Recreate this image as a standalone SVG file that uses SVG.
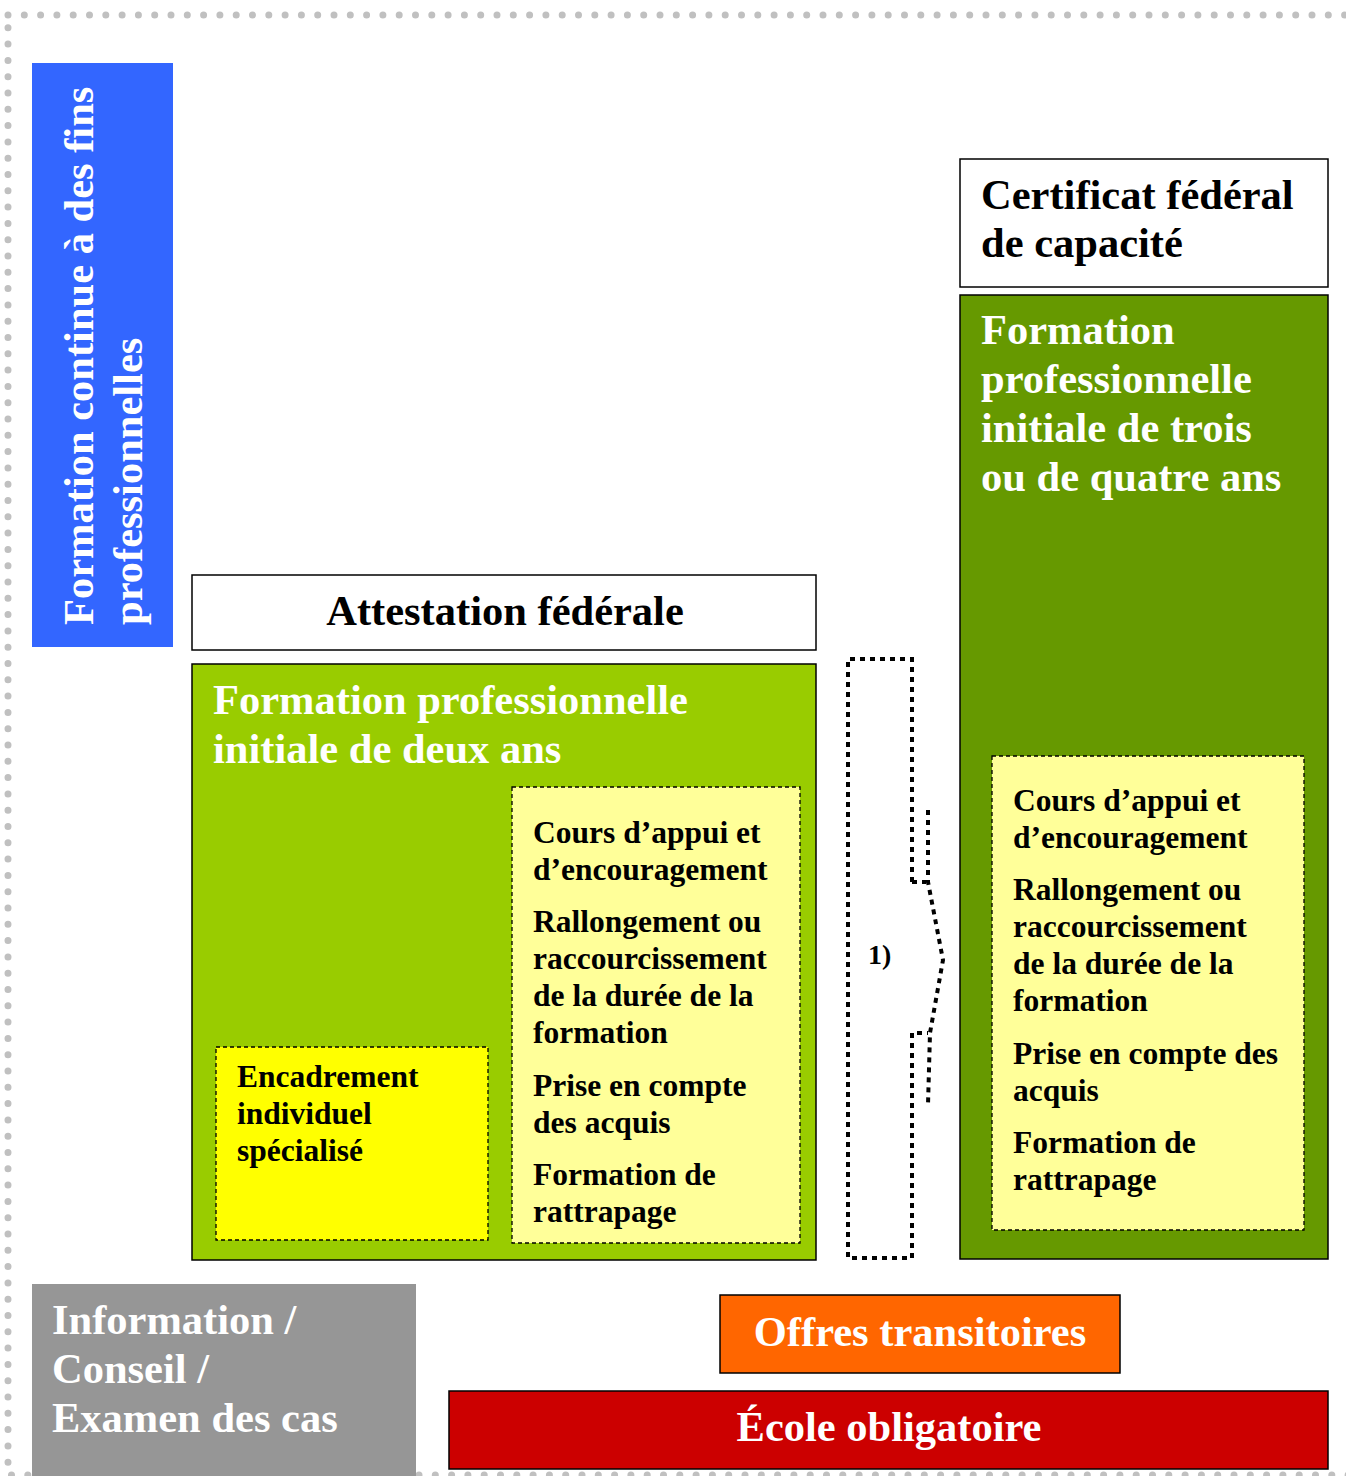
<svg xmlns="http://www.w3.org/2000/svg" width="1346" height="1476" viewBox="0 0 1346 1476">
<style>
text{font-family:"Liberation Serif","Times New Roman",serif;font-weight:bold}
.t{font-size:42.5px}
.b{font-size:31.5px;fill:#000}
.w{fill:#fff}
.k{fill:#000}
.box{stroke:#000;stroke-width:1.5}
.dash{stroke:#000;stroke-width:1.3;stroke-dasharray:4 3}
.br{fill:none;stroke:#000;stroke-width:4;stroke-dasharray:5 5}
</style>
<rect width="1346" height="1476" fill="#fff"/>
<rect x="8" y="15" width="1350" height="1460" fill="none" stroke="#C0C0C0" stroke-width="7" stroke-linecap="round" stroke-dasharray="0 16.3"/>

<g id="formation-continue">
<rect x="32" y="63" width="141" height="584" fill="#3366FF"/>
<text class="t w" transform="translate(93,625) rotate(-90)">Formation continue à des fins</text>
<text class="t w" transform="translate(142,625) rotate(-90)">professionnelles</text>
</g>

<g id="certificat">
<rect class="box" x="960" y="159" width="368" height="128" fill="#fff"/>
<text class="t k" x="981" y="209">Certificat fédéral</text>
<text class="t k" x="981" y="257">de capacité</text>
</g>

<g id="fpi-trois-quatre">
<rect class="box" x="960" y="295" width="368" height="964" fill="#669900"/>
<text class="t w" x="981" y="344">Formation</text>
<text class="t w" x="981" y="393">professionnelle</text>
<text class="t w" x="981" y="442">initiale de trois</text>
<text class="t w" x="981" y="491">ou de quatre ans</text>
</g>

<g id="mesures-droite">
<rect class="dash" x="992" y="756" width="312" height="474" fill="#FFFF99"/>
<text class="b" x="1013" y="811">Cours d’appui et</text>
<text class="b" x="1013" y="848">d’encouragement</text>
<text class="b" x="1013" y="900">Rallongement ou</text>
<text class="b" x="1013" y="937">raccourcissement</text>
<text class="b" x="1013" y="974">de la durée de la</text>
<text class="b" x="1013" y="1011">formation</text>
<text class="b" x="1013" y="1064">Prise en compte des</text>
<text class="b" x="1013" y="1101">acquis</text>
<text class="b" x="1013" y="1153">Formation de</text>
<text class="b" x="1013" y="1190">rattrapage</text>
</g>

<g id="attestation">
<rect class="box" x="192" y="575" width="624" height="75" fill="#fff"/>
<text class="t k" x="505" y="625" text-anchor="middle">Attestation fédérale</text>
</g>

<g id="fpi-deux-ans">
<rect class="box" x="192" y="664" width="624" height="596" fill="#99CC00"/>
<text class="t w" x="213" y="714">Formation professionnelle</text>
<text class="t w" x="213" y="763">initiale de deux ans</text>
</g>

<g id="mesures-gauche">
<rect class="dash" x="512" y="787" width="288" height="456" fill="#FFFF99"/>
<text class="b" x="533" y="843">Cours d’appui et</text>
<text class="b" x="533" y="880">d’encouragement</text>
<text class="b" x="533" y="932">Rallongement ou</text>
<text class="b" x="533" y="969">raccourcissement</text>
<text class="b" x="533" y="1006">de la durée de la</text>
<text class="b" x="533" y="1043">formation</text>
<text class="b" x="533" y="1096">Prise en compte</text>
<text class="b" x="533" y="1133">des acquis</text>
<text class="b" x="533" y="1185">Formation de</text>
<text class="b" x="533" y="1222">rattrapage</text>
</g>

<g id="encadrement">
<rect class="dash" x="216" y="1047" width="272" height="193" fill="#FFFF00"/>
<text class="b" x="237" y="1087">Encadrement</text>
<text class="b" x="237" y="1124">individuel</text>
<text class="b" x="237" y="1161">spécialisé</text>
</g>

<g id="connectors">
<path class="br" d="M912,882 L912,659 L848,659 L848,1258 L912,1258 L912,1033 L928,1033"/>
<path class="br" d="M912,882 L926,882"/>
<path class="br" stroke-width="5.5" stroke-dasharray="6 4" d="M928,810 L928,882 L943,960 L930,1033 L928,1105"/>
<text x="868" y="964" font-size="28" class="k">1)</text>
</g>

<g id="information">
<rect x="32" y="1284" width="384" height="192" fill="#969696"/>
<text class="t w" x="52" y="1334">Information /</text>
<text class="t w" x="52" y="1383">Conseil /</text>
<text class="t w" x="52" y="1432">Examen des cas</text>
</g>

<g id="offres">
<rect class="box" x="720" y="1295" width="400" height="78" fill="#FF6600"/>
<text class="t w" x="920" y="1346" text-anchor="middle">Offres transitoires</text>
</g>

<g id="ecole">
<rect class="box" x="449" y="1391" width="879" height="78" fill="#CC0000"/>
<text class="t w" x="889" y="1441" text-anchor="middle">École obligatoire</text>
</g>
</svg>
